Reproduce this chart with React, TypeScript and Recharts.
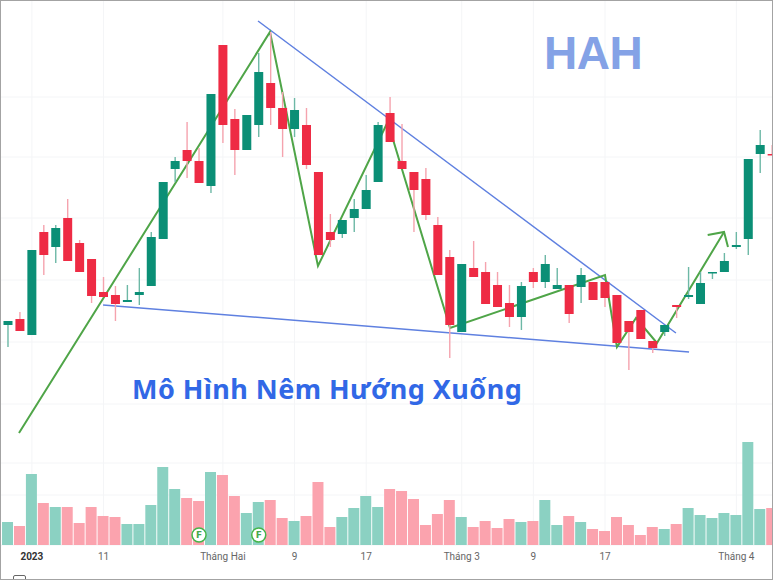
import React from "react";
import {
  Bar,
  CartesianGrid,
  Cell,
  ComposedChart,
  Line,
  ReferenceDot,
  XAxis,
  YAxis,
} from "recharts";

const WIDTH = 773;
const HEIGHT = 580;
const UP = "#0b8f76";
const DOWN = "#ee2b44";
const UP_WICK = "#6db8a6";
const DOWN_WICK = "#f5a3ae";
const UP_VOL = "#8bd1c2";
const DOWN_VOL = "#fba3ae";
const BODY_W = 9;

// daily session index, starting at 0 on the first visible candle
const opens = [
  22.0, 22.6, 21.0, 31.3, 29.8, 32.7, 30.2, 28.6, 25.3, 25.0,
  24.3, 25.0, 25.9, 30.6, 37.6, 39.5, 38.4, 35.9, 50.0, 42.6,
  39.5, 42.0, 46.2, 43.7, 41.6, 42.0, 37.3, 31.3, 31.1, 32.7,
  33.6, 36.3, 43.2, 38.4, 37.3, 36.6, 32.0, 28.8, 21.3, 27.7,
  27.3, 26.0, 24.2, 22.8, 27.3, 26.3, 25.6, 26.0, 25.8, 26.3,
  26.3, 25.0, 22.4, 23.5, 20.4, 21.3, 24.0, 24.8, 24.1, 27.2,
  27.3, 29.8, 30.6, 39.1, 39.1,
];
const closes = [
  22.4, 21.4, 29.5, 29.0, 31.7, 28.4, 27.3, 24.9, 24.8, 24.1,
  24.5, 25.3, 30.8, 36.3, 38.4, 38.4, 36.2, 45.1, 42.0, 39.5,
  43.0, 47.3, 43.7, 41.6, 43.5, 38.0, 29.0, 30.5, 32.5, 33.6,
  35.5, 42.0, 40.3, 37.6, 35.5, 33.0, 27.0, 22.0, 28.1, 26.8,
  24.1, 23.8, 22.8, 25.9, 26.3, 28.1, 26.0, 23.1, 27.0, 24.5,
  24.7, 20.2, 21.3, 20.6, 19.7, 22.0, 23.8, 25.0, 26.2, 27.3,
  28.4, 30.0, 38.6, 40.0, 39.0,
];
const highs = [
  22.4, 23.3, 29.5, 32.0, 32.0, 34.6, 30.5, 28.6, 26.8, 25.9,
  26.0, 27.7, 31.3, 36.3, 38.8, 42.3, 39.7, 45.1, 50.0, 43.6,
  43.0, 49.2, 51.3, 45.3, 44.7, 43.7, 37.3, 33.1, 32.5, 34.6,
  37.0, 42.3, 44.8, 42.1, 37.3, 37.7, 32.8, 29.5, 28.1, 30.4,
  28.3, 27.3, 26.0, 26.3, 27.7, 29.0, 27.7, 26.0, 27.7, 26.3,
  26.3, 25.0, 22.4, 23.5, 20.4, 22.0, 24.0, 27.8, 27.3, 27.3,
  29.2, 31.3, 38.6, 41.5, 40.0,
];
const lows = [
  19.8, 21.4, 21.0, 27.0, 28.2, 28.4, 27.3, 24.2, 24.8, 22.4,
  24.3, 24.0, 25.9, 30.6, 36.3, 36.7, 36.2, 35.2, 40.2, 37.0,
  39.5, 40.8, 42.0, 38.8, 40.8, 37.6, 29.0, 29.8, 30.7, 31.3,
  33.6, 36.3, 40.3, 37.6, 31.3, 32.5, 27.0, 18.7, 21.3, 26.8,
  24.1, 23.8, 21.8, 21.5, 25.7, 25.7, 25.6, 22.2, 24.2, 24.5,
  23.8, 20.2, 17.5, 20.6, 19.2, 20.9, 22.7, 24.6, 24.1, 26.6,
  27.3, 29.6, 29.0, 37.2, 39.0,
];
const volumes = [
  230, 190, 710, 420, 380, 380, 220, 380, 290, 280,
  210, 210, 400, 780, 560, 470, 440, 730, 700, 490,
  320, 430, 450, 270, 240, 290, 630, 180, 280, 370,
  490, 380, 560, 540, 460, 200, 310, 450, 280, 180,
  240, 170, 260, 230, 240, 450, 200, 290, 230, 160,
  140, 280, 200, 100, 180, 160, 210, 370, 300, 270,
  320, 300, 1030, 360, 370,
];

const tickSessions = [2, 8, 18, 24, 30, 38, 44, 50, 61];
const tickLabels = ["2023", "11", "Tháng Hai", "9", "17", "Tháng 3", "9", "17", "Tháng 4"];

const gridPrices = [44.8, 38.8, 32.7, 26.5, 20.3, 14.1, 8.2, 5.0];
const earningsSessions = [16, 21];

const zigzag = [
  { session: 0.92, price: 11.2 },
  { session: 21.94, price: 51.3 },
  { session: 25.96, price: 27.9 },
  { session: 31.8, price: 42.3 },
  { session: 37.02, price: 21.7 },
  { session: 50.0, price: 27.0 },
  { session: 51.0, price: 19.8 },
  { session: 52.6, price: 22.7 },
  { session: 54.35, price: 20.2 },
  { session: 59.97, price: 31.3 },
];
const arrowHead = [
  { session: 58.6, price: 31.0 },
  { session: 59.97, price: 31.3 },
  { session: 60.3, price: 29.8 },
];
const upperTrend = [
  { session: 20.94, price: 52.4 },
  { session: 55.94, price: 21.2 },
];
const lowerTrend = [
  { session: 7.96, price: 24.0 },
  { session: 57.04, price: 19.3 },
];

const rows = opens.map((open, i) => ({
  session: i,
  open,
  close: closes[i],
  high: highs[i],
  low: lows[i],
  volume: volumes[i],
}));

function Candle(props: any) {
  const { x, y, width, height, payload } = props;
  const { open, close, high, low } = payload;
  const up = close >= open;
  const yTop = Math.min(y, y + height);
  const span = Math.abs(height);
  const perUnit = span / (high - low || 1);
  const bodyTop = yTop + (high - Math.max(open, close)) * perUnit;
  const bodyH = Math.max(Math.abs(open - close) * perUnit, 1.5);
  const cx = x + width / 2;
  return (
    <g>
      <line x1={cx} x2={cx} y1={yTop} y2={yTop + span} stroke={up ? UP_WICK : DOWN_WICK} strokeWidth={1.4} />
      <rect x={cx - BODY_W / 2} y={bodyTop} width={BODY_W} height={bodyH} fill={up ? UP : DOWN} />
    </g>
  );
}

function SessionTick(props: any) {
  const { x, y, payload } = props;
  const label = tickLabels[tickSessions.indexOf(payload.value)];
  const year = label === "2023";
  return (
    <text
      x={x}
      y={y}
      textAnchor="middle"
      fontSize={10}
      fontWeight={year ? 700 : 400}
      fill={year ? "#333" : "#666"}
      fontFamily="Roboto, sans-serif"
    >
      {label}
    </text>
  );
}

export default function App() {
  return (
    <div style={{ position: "absolute", left: 0, top: 0, width: WIDTH, height: HEIGHT, overflow: "hidden", background: "#fff" }}>
      <ComposedChart
        width={WIDTH}
        height={HEIGHT}
        data={rows}
        margin={{ top: 0, right: 0, bottom: 0, left: 0 }}
      >
        <CartesianGrid stroke="#f4f5f7" xAxisId="session" yAxisId="price" />
        <XAxis
          xAxisId="session"
          dataKey="session"
          type="number"
          domain={[-0.67, 64.07]}
          allowDataOverflow
          ticks={tickSessions}
          interval={0}
          tick={<SessionTick />}
          tickLine={false}
          axisLine={false}
          tickMargin={9}
          height={35}
        />
        <XAxis xAxisId="vol" dataKey="session" type="number" domain={[-0.67, 64.07]} allowDataOverflow hide />
        <YAxis yAxisId="price" type="number" domain={[0, 54.5]} ticks={gridPrices} hide />
        <YAxis yAxisId="volume" type="number" domain={[0, 5450]} hide />
        <Bar xAxisId="vol" yAxisId="volume" dataKey="volume" barSize={11} isAnimationActive={false}>
          {rows.map((r) => (
            <Cell key={r.session} fill={r.close >= r.open ? UP_VOL : DOWN_VOL} />
          ))}
        </Bar>
        <Line
          xAxisId="session"
          yAxisId="price"
          data={upperTrend}
          dataKey="price"
          stroke="#5f80e0"
          strokeWidth={1.5}
          dot={false}
          activeDot={false}
          zIndex={250}
          isAnimationActive={false}
        />
        <Line
          xAxisId="session"
          yAxisId="price"
          data={lowerTrend}
          dataKey="price"
          stroke="#5f80e0"
          strokeWidth={1.5}
          dot={false}
          activeDot={false}
          zIndex={250}
          isAnimationActive={false}
        />
        <Line
          xAxisId="session"
          yAxisId="price"
          data={zigzag}
          dataKey="price"
          stroke="#4fa548"
          strokeWidth={2}
          dot={false}
          activeDot={false}
          zIndex={250}
          isAnimationActive={false}
        />
        <Line
          xAxisId="session"
          yAxisId="price"
          data={arrowHead}
          dataKey="price"
          stroke="#4fa548"
          strokeWidth={2}
          dot={false}
          activeDot={false}
          zIndex={250}
          isAnimationActive={false}
        />
        <Bar
          xAxisId="session"
          yAxisId="price"
          dataKey={(d: any) => [d.low, d.high]}
          barSize={9}
          shape={<Candle />}
          isAnimationActive={false}
        />
        {earningsSessions.map((s) => (
          <ReferenceDot
            key={s}
            xAxisId="session"
            yAxisId="price"
            x={s}
            y={1}
            r={7}
            fill="#fff"
            stroke="#45b54a"
            strokeWidth={1.5}
            label={{ value: "F", position: "center", fill: "#45a84a", fontSize: 9, fontWeight: 700, fontFamily: "'DejaVu Sans', sans-serif" }}
          />
        ))}
      </ComposedChart>
      <div
        style={{
          position: "absolute",
          left: 544,
          top: 25,
          fontFamily: "'Liberation Sans', sans-serif",
          fontWeight: 700,
          fontSize: 46,
          letterSpacing: -0.5,
          lineHeight: "56px",
          color: "#84a2e6",
        }}
      >
        HAH
      </div>
      <div
        style={{
          position: "absolute",
          left: 132,
          top: 370,
          fontFamily: "'Noto Sans', sans-serif",
          fontWeight: 700,
          fontSize: 27,
          lineHeight: "38px",
          letterSpacing: 0.45,
          color: "#3168e6",
          whiteSpace: "nowrap",
        }}
      >
        Mô Hình Nêm Hướng Xuống
      </div>
      {/* calendar button, cut off by the bottom edge */}
      <div
        style={{
          position: "absolute",
          left: 13,
          top: 575,
          width: 11,
          height: 8,
          border: "1px solid #666",
          borderRadius: 2,
        }}
      />
      <div style={{ position: "absolute", inset: 0, border: "1px solid #a3a3a3", boxSizing: "border-box", pointerEvents: "none" }} />
    </div>
  );
}
